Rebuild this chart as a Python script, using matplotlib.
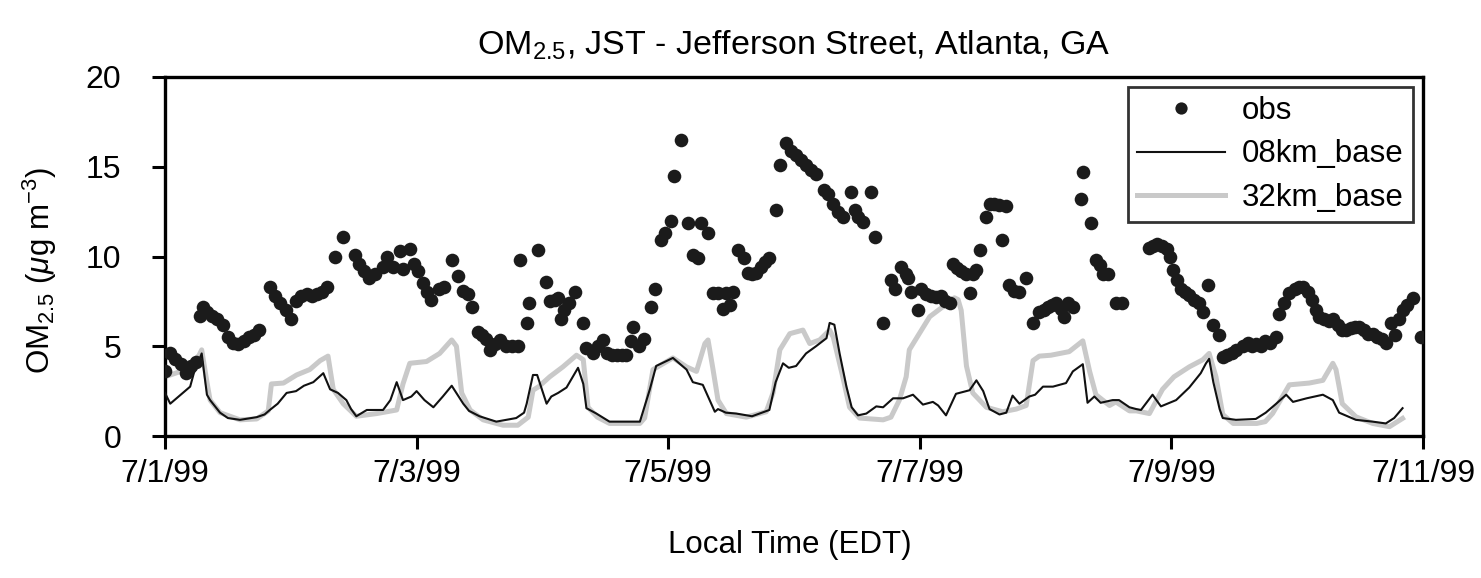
import matplotlib
matplotlib.use("Agg")
import matplotlib.pyplot as plt
import numpy as np

plt.rcParams['font.family'] = ['Liberation Sans', 'DejaVu Sans']
plt.rcParams['mathtext.fontset'] = 'custom'
plt.rcParams['mathtext.rm'] = 'Liberation Sans'
plt.rcParams['mathtext.it'] = 'Liberation Sans:italic'

# ---- data (hours since 7/1/99 00:00 EDT) ----
obs_hours = [0, 1, 2, 3, 4, 5, 6, 6.6, 7.2, 8, 9, 10, 11, 12, 13, 14, 15, 16, 17, 18,
             20, 21, 22, 23, 24, 25, 26, 27, 28, 29, 30, 31,
             32.4, 34, 36.2, 37, 38, 39, 40, 41.6, 42.3, 43.5, 44.8, 45.4, 46.7, 47.5,
             48.3, 49.2, 50, 50.8, 52.2, 53.3, 54.7, 55.9, 56.9, 57.8, 58.5,
             59.7, 60.5, 61.3, 62, 63, 64, 65, 66.2, 67.3,
             67.8, 69, 69.5, 71.2, 72.6, 73.5, 74.4, 75, 75.5, 76.2, 77, 78.2, 79.8,
             80.4, 81.7, 82.6, 83.6, 84.4, 85.3, 86.2, 87.1, 88, 88.9, 89.3, 90.5, 91.3,
             92.8, 93.4, 94.7, 95.3, 96.6, 97.2, 98.5, 99.8, 100.7, 101.6, 102.3, 103.6,
             104.5, 105.5, 106.4, 107.1, 107.7, 108.4, 109.3, 110.4, 111.2, 112.0, 112.8,
             113.7, 114.5, 115.2, 116.6, 117.3, 118.5, 119.4, 120.4, 121.3, 122.3, 123.2,
             124.2, 125.8, 126.5, 127.4, 128.3, 129.3, 130.9, 131.6, 132.3, 133.1, 134.7,
             135.4, 137, 138.5, 139.2, 140.5, 141.3, 141.8, 142.4, 143.7, 144.3, 145.2,
             146.1, 147.1, 148, 148.9, 149.7, 150.3, 151.1, 151.8, 152.8, 153.5, 154.2,
             154.8, 155.4, 156.7, 157.3, 158.2, 159.2, 159.6, 160.5, 161.1, 162.0, 162.9,
             164.3, 165.6, 166.8, 167.7, 168.5, 169.3, 170, 170.9, 171.6, 172.3, 173.2,
             174.8, 175.1, 176.7, 177.6, 178.4, 179, 179.9, 181.5, 182.5,
             187.8, 188.5, 189.3, 190.3, 191.1, 191.7, 192.4, 193.1, 193.8, 194.6, 195.4,
             196.3, 197.3, 198.1, 198.9, 200, 201.1, 201.8, 202.7, 203.6, 204.4, 205.6,
             206.6, 207.3, 208.1, 209, 209.8, 210.8, 212, 212.6, 213.5, 214.5, 215.5,
             216.4, 217.2, 218.1, 218.9, 219.6, 220.2, 221.1, 222, 222.8, 223.7, 224.5,
             225.3, 226.2, 227, 227.8, 228.7, 229.5, 230.4, 231.3, 232.2, 233, 233.8,
             234.7, 235.4, 236.1, 237, 238, 239.6]
obs_values = [3.6, 4.6, 4.3, 4.0, 3.5, 3.9, 4.1, 6.7, 7.2, 6.9, 6.7, 6.5, 6.2, 5.5, 5.2, 5.1, 5.3, 5.5, 5.6, 5.9,
              8.3, 7.8, 7.4, 7.0, 6.5, 7.5, 7.8, 7.9, 7.8, 7.9, 8.0, 8.3,
              10.0, 11.1, 10.1, 9.6, 9.2, 8.8, 9.0, 9.4, 10.0, 9.4, 10.3, 9.3, 10.4, 9.6,
              9.2, 8.5, 8.0, 7.6, 8.2, 8.3, 9.8, 8.9, 8.1, 7.9, 7.2,
              5.8, 5.6, 5.4, 4.8, 5.1, 5.35, 5.0, 5.0, 5.0,
              9.8, 6.3, 7.4, 10.35, 8.6, 7.5, 7.6, 7.7, 6.5, 7.0, 7.4, 8.0, 6.3,
              4.9, 4.6, 5.0, 5.35, 4.6, 4.5, 4.5, 4.5, 4.5, 5.3, 6.1, 5.0, 5.4,
              7.2, 8.2, 10.9, 11.3, 12.0, 14.5, 16.5, 11.85, 10.1, 9.9, 11.85, 11.3,
              7.95, 7.95, 7.1, 7.95, 7.3, 8.0, 10.35, 9.9, 9.1, 9.0, 9.1,
              9.4, 9.7, 9.9, 12.6, 15.1, 16.3, 15.9, 15.65, 15.4, 15.1, 14.8,
              14.6, 13.7, 13.5, 12.9, 12.5, 12.2, 13.6, 12.6, 12.2, 11.9, 13.6,
              11.1, 6.3, 8.7, 8.2, 9.4, 9.0, 8.8, 8.0, 7.0, 8.2, 7.9,
              7.8, 7.75, 7.8, 7.5, 7.4, 9.6, 9.35, 9.2, 9.05, 7.95, 9.0,
              9.25, 10.35, 12.2, 12.95, 12.9, 12.85, 10.9, 12.8, 8.4, 8.1, 8.0,
              8.8, 6.3, 6.9, 7.0, 7.2, 7.3, 7.4, 7.1, 6.65, 7.4, 7.2,
              13.2, 14.7, 11.85, 9.8, 9.5, 9.0, 9.05, 7.4, 7.4,
              10.5, 10.6, 10.7, 10.6, 10.4, 10.0, 9.25, 8.7, 8.2, 8.0, 7.85,
              7.6, 7.4, 6.9, 8.4, 6.2, 5.6, 4.4, 4.5, 4.6, 4.8, 5.0,
              5.2, 5.0, 5.15, 5.0, 5.3, 5.2, 5.5, 6.8, 7.4, 7.95, 8.2,
              8.3, 8.3, 8.0, 7.6, 7.0, 6.65, 6.5, 6.4, 6.5, 6.2, 5.9,
              5.9, 6.0, 6.1, 6.1, 5.9, 5.7, 5.7, 5.5, 5.4, 5.2, 6.3,
              5.6, 6.5, 7.0, 7.3, 7.7, 5.5]

km08_hours = [0, 1, 3, 4.8, 5.5, 6.5, 7, 8, 8.6, 10.5, 12, 14.3, 17.5, 19, 20, 21.5, 23.2, 25,
              26.5, 28.3, 30.2, 31.5, 33, 34.6, 35.5, 36.5, 38.5, 41.6, 43, 44.2, 45.4, 47,
              48, 49.5, 51.2, 53, 54.7, 56.9, 58, 60, 63.2, 67, 68.5, 69, 70.2, 71, 72.8,
              73.7, 75, 76.6, 78.8, 79.8, 80.4, 82.3, 84.8, 90.6, 92.5, 93.7, 96.9, 99.5,
              100.7, 102.6, 103.9, 104.9, 105.5, 107, 109, 112, 115.3, 116.5, 117.9, 119,
              120.4, 122.3, 124.2, 126.2, 126.8, 127.7, 128.7, 130, 131, 132.2, 133.8,
              135.7, 137, 138.9, 140.8, 142.7, 144.6, 146.5, 147.5, 149, 150.9, 152.2,
              153.5, 154.8, 156.1, 157.3, 159.2, 160.5, 161.7, 163, 164.9, 166, 167.5,
              169.4, 171.9, 173.2, 175.1, 176, 177.3, 178.5, 180.8, 182, 184, 185.3,
              186.2, 188.4, 190, 192.9, 195.4, 197.6, 198.6, 199.2, 200, 201.2, 201.8,
              204.3, 208.1, 210, 212, 213.9, 215.2, 217.8, 220.9, 222.8, 224, 227.2,
              230.4, 232.9, 234.5, 236.1]
km08_values = [2.4, 1.8, 2.3, 2.75, 3.5, 4.2, 4.6, 2.3, 2.0, 1.3, 1.0, 0.9, 1.05, 1.2, 1.45, 1.8, 2.4, 2.5,
               2.8, 3.0, 3.5, 2.6, 2.4, 2.0, 1.5, 1.1, 1.45, 1.45, 2.0, 3.0, 2.0, 2.2,
               2.5, 2.0, 1.6, 2.2, 2.8, 1.8, 1.4, 1.1, 0.8, 1.0, 1.3, 1.8, 3.4, 3.4, 1.8,
               2.2, 2.4, 2.7, 3.8, 2.9, 1.55, 1.25, 0.8, 0.8, 2.6, 3.9, 4.35, 3.7,
               3.0, 2.85, 2.0, 1.35, 1.5, 1.3, 1.25, 1.1, 1.45, 3.0, 4.05, 3.8,
               3.9, 4.6, 5.0, 5.45, 6.3, 6.2, 4.6, 2.75, 1.6, 1.15, 1.25,
               1.65, 1.6, 2.1, 2.1, 2.3, 1.75, 1.9, 1.7, 1.15, 2.35, 2.45,
               2.55, 3.1, 2.5, 1.5, 1.2, 1.3, 2.25, 1.8, 2.2, 2.3, 2.75,
               2.75, 2.95, 3.6, 4.0, 1.85, 2.2, 1.85, 2.0, 2.0, 1.6, 1.5,
               1.45, 2.3, 1.65, 2.0, 2.7, 3.5, 4.05, 4.3, 3.0, 1.5, 1.0,
               0.9, 0.95, 1.3, 1.8, 2.3, 1.9, 2.1, 2.3, 2.0, 1.3, 0.9,
               0.8, 0.7, 1.0, 1.55]

km32_hours = [0, 3, 5, 6.5, 7, 8, 8.6, 10.5, 14.3, 17.5, 19.7, 20.3, 22.6, 25.1, 27.6, 29.6,
              31.1, 32.1, 34, 36.5, 40.4, 44.2, 45.4, 46.7, 49.9, 52.4, 54.7, 55.6, 56.6,
              58.2, 60.7, 64.5, 67.3, 69.3, 70.2, 71.3, 73.4, 75.9, 78.5, 79.8, 80.7, 82.5,
              84.8, 90.6, 91.5, 93.1, 96.9, 99.5, 101.4, 103, 103.6, 104.5, 105.5, 107.1,
              110.9, 114.7, 116, 117.3, 119.2, 121.7, 123, 124.9, 126.8, 127.5, 129.3,
              130.6, 132.5, 137, 138.5, 140.1, 141.4, 142, 144, 145.9, 148.4, 150.6, 151.3,
              151.9, 152.9, 154.1, 156.7, 159.8, 162.4, 164.3, 165.6, 166.8, 169, 172.5,
              175.1, 176.4, 177.6, 180.2, 181.4, 184, 185.3, 187.8, 190.3, 192.5, 195.4,
              198, 199.2, 200.5, 201.8, 203.8, 208.3, 209.9, 211.3, 212.6, 214.5, 218.3,
              220.9, 222.8, 223.4, 224.6, 227.2, 230.4, 233.6, 236.1]
km32_values = [3.3, 3.6, 4.0, 4.5, 4.8, 3.0, 2.0, 1.3, 0.9, 0.95, 1.4, 2.9, 2.95, 3.4, 3.7, 4.2,
               4.45, 2.6, 1.8, 1.1, 1.25, 1.45, 2.9, 4.05, 4.15, 4.6, 5.35, 5.0, 2.4,
               1.45, 0.9, 0.6, 0.6, 1.05, 2.55, 2.75, 3.3, 3.85, 4.5, 4.25, 1.6, 1.05,
               0.7, 0.7, 1.0, 3.7, 4.35, 3.85, 3.6, 5.15, 5.35, 3.8, 2.0, 1.25,
               1.05, 1.35, 2.4, 4.8, 5.7, 5.9, 5.15, 5.35, 5.9, 5.5, 3.3,
               1.6, 1.0, 0.9, 1.05, 2.0, 3.3, 4.8, 5.75, 6.65, 7.2, 7.7, 7.6,
               7.0, 3.9, 2.4, 1.6, 1.35, 1.5, 1.7, 4.2, 4.45, 4.5, 4.7,
               5.3, 3.6, 2.3, 1.7, 1.9, 1.4, 1.4, 1.25, 2.6, 3.3, 3.85,
               4.25, 4.6, 3.3, 1.2, 0.7, 0.7, 0.8, 1.25, 1.9, 2.85, 2.95,
               3.1, 4.05, 3.7, 1.8, 1.07, 0.7, 0.52, 0.98]

xtick_days = [0, 2, 4, 6, 8, 10]
xtick_labels = ['7/1/99', '7/3/99', '7/5/99', '7/7/99', '7/9/99', '7/11/99']
yticks = [0, 5, 10, 15, 20]

# ---- plot ----
fig = plt.figure(figsize=(14.81, 5.78), dpi=100)
ax = fig.add_axes([165/1481, 1 - 436/578, (1423 - 165)/1481, (436 - 77)/578])

to_days = lambda h: np.asarray(h) / 24.0
ax.plot(to_days(km32_hours), km32_values, color='#c9c9c9', lw=3.6, zorder=2,
        label='32km_base', solid_joinstyle='round')
ax.plot(to_days(km08_hours), km08_values, color='#111111', lw=1.5, zorder=3,
        label='08km_base')
ax.plot(to_days(obs_hours), obs_values, linestyle='none', marker='o', ms=9.8,
        color='#1b1b1b', mec='none', zorder=4, label='obs')

ax.set_xlim(0, 10)
ax.set_ylim(0, 20)
ax.set_xticks(xtick_days)
ax.set_xticklabels(xtick_labels)
ax.set_yticks(yticks)
ax.tick_params(axis='both', direction='out', length=9.5, width=2.2, labelsize=23,
               colors='black')
ax.tick_params(axis='x', pad=7)
ax.tick_params(axis='y', pad=22)
for sp in ax.spines.values():
    sp.set_linewidth(2.4)
    sp.set_color('black')

ax.set_title('OM$_{2.5}$, JST - Jefferson Street, Atlanta, GA', fontsize=24.5, pad=16)
ax.set_xlabel('Local Time (EDT)', fontsize=22.5)
ax.xaxis.set_label_coords(0.497, -0.262)
ax.set_ylabel('OM$_{2.5}$ ($\\mu$g m$^{-3}$)', fontsize=22.5)
ax.yaxis.set_label_coords(-0.084, 0.46)

h, l = ax.get_legend_handles_labels()
order = [2, 1, 0]
leg = ax.legend([h[i] for i in order], [l[i] for i in order], loc='upper right',
                fontsize=22.5, frameon=True, fancybox=False, edgecolor='black',
                borderaxespad=0.32, borderpad=0.3, handlelength=2.8,
                handletextpad=0.55, labelspacing=0.42, markerscale=0.9)
leg.get_frame().set_linewidth(2.0)

fig.savefig('out.png', dpi=100)
